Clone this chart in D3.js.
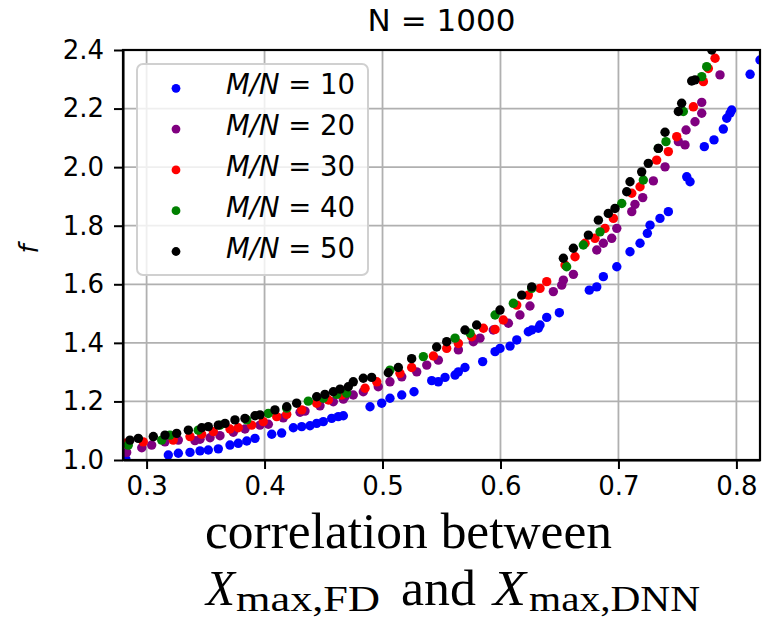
<!DOCTYPE html>
<html lang="en">
<head>
<meta charset="UTF-8">
<title>f vs correlation</title>
<script src="https://d3js.org/d3.v7.min.js"></script>
<style>
    body { margin: 0; background: #fff; }
    svg { display: block; }
    text { font-family: "DejaVu Sans", sans-serif; fill: #000; }
    .grid line { stroke: #b0b0b0; stroke-width: 1.8; }
    .axis path, .axis line { stroke: #000; stroke-width: 2; }
    .axis text { font-size: 26px; }
    .serif { font-family: "Liberation Serif", serif; }
</style>
</head>
<body>
<svg width="776" height="619"></svg>
<script>
    // tick values
    const xTicks = [0.3, 0.4, 0.5, 0.6, 0.7, 0.8];
    const yTicks = [1.0, 1.2, 1.4, 1.6, 1.8, 2.0, 2.2, 2.4];

    const seriesRatio = [10, 20, 30, 40, 50];
    const seriesColor = ["#0000ff", "#800080", "#ff0000", "#008000", "#000000"];

    // [correlation, f]
    const mn10 = [
        [0.2825, 1.002], [0.3184, 1.017], [0.3269, 1.023], [0.3368, 1.026], [0.3453, 1.031],
        [0.3523, 1.034], [0.3608, 1.038], [0.3707, 1.051], [0.3777, 1.057], [0.3849, 1.065],
        [0.3919, 1.074], [0.4061, 1.088], [0.4145, 1.092], [0.4244, 1.110], [0.4315, 1.114],
        [0.4385, 1.117], [0.4442, 1.125], [0.4498, 1.131], [0.4569, 1.142], [0.4625, 1.148],
        [0.4668, 1.151], [0.4894, 1.182], [0.4993, 1.194], [0.5063, 1.211], [0.5163, 1.222],
        [0.5267, 1.233], [0.5417, 1.271], [0.5473, 1.267], [0.5530, 1.282], [0.5615, 1.290],
        [0.5643, 1.301], [0.5699, 1.316], [0.5849, 1.336], [0.5954, 1.370], [0.5996, 1.381],
        [0.6081, 1.389], [0.6138, 1.410], [0.6236, 1.438], [0.6265, 1.444], [0.6321, 1.450],
        [0.6335, 1.461], [0.6392, 1.487], [0.6499, 1.503], [0.6753, 1.580], [0.6816, 1.591],
        [0.6872, 1.626], [0.6986, 1.660], [0.7098, 1.711], [0.7183, 1.740], [0.7245, 1.774],
        [0.7268, 1.802], [0.7352, 1.825], [0.7423, 1.848], [0.7579, 1.967], [0.7607, 1.950],
        [0.7728, 2.070], [0.7810, 2.093], [0.7889, 2.130], [0.7918, 2.167], [0.7946, 2.184],
        [0.7960, 2.195], [0.8116, 2.317], [0.8200, 2.366]
    ];
    const mn20 = [
        [0.2831, 1.026], [0.2959, 1.042], [0.3043, 1.051], [0.3156, 1.062], [0.3269, 1.068],
        [0.3410, 1.066], [0.3453, 1.071], [0.3538, 1.076], [0.3622, 1.083], [0.3735, 1.095],
        [0.3834, 1.106], [0.3961, 1.119], [0.4032, 1.122], [0.4159, 1.144], [0.4301, 1.163],
        [0.4343, 1.167], [0.4470, 1.185], [0.4583, 1.199], [0.4668, 1.208], [0.4682, 1.216],
        [0.4752, 1.222], [0.4837, 1.233], [0.4964, 1.250], [0.5063, 1.267], [0.5163, 1.284],
        [0.5290, 1.301], [0.5375, 1.324], [0.5473, 1.341], [0.5643, 1.376], [0.5770, 1.404],
        [0.5826, 1.416], [0.5939, 1.444], [0.6067, 1.467], [0.6165, 1.495], [0.6250, 1.526],
        [0.6448, 1.575], [0.6519, 1.597], [0.6533, 1.614], [0.6618, 1.634], [0.6816, 1.717],
        [0.6872, 1.740], [0.6943, 1.757], [0.6986, 1.791], [0.7113, 1.848], [0.7140, 1.873],
        [0.7206, 1.896], [0.7296, 1.953], [0.7395, 2.001], [0.7508, 2.087], [0.7564, 2.076],
        [0.7573, 2.127], [0.7649, 2.155], [0.7706, 2.184], [0.7706, 2.221], [0.7861, 2.315]
    ];
    const mn30 = [
        [0.2817, 1.057], [0.2972, 1.062], [0.3226, 1.068], [0.3368, 1.080], [0.3467, 1.088],
        [0.3566, 1.097], [0.3707, 1.106], [0.3777, 1.110], [0.3891, 1.119], [0.3989, 1.131],
        [0.4103, 1.148], [0.4188, 1.156], [0.4315, 1.171], [0.4442, 1.194], [0.4541, 1.205],
        [0.4654, 1.222], [0.4852, 1.245], [0.4951, 1.267], [0.5148, 1.296], [0.5247, 1.316],
        [0.5431, 1.355], [0.5544, 1.381], [0.5643, 1.398], [0.5756, 1.421], [0.5855, 1.450],
        [0.5954, 1.446], [0.6024, 1.478], [0.6138, 1.529], [0.6236, 1.563], [0.6335, 1.586],
        [0.6392, 1.609], [0.6547, 1.666], [0.6632, 1.694], [0.6717, 1.740], [0.6801, 1.757],
        [0.6886, 1.791], [0.6957, 1.825], [0.7113, 1.911], [0.7183, 1.933], [0.7324, 2.024],
        [0.7423, 2.053], [0.7494, 2.104], [0.7635, 2.206], [0.7720, 2.292], [0.7762, 2.337],
        [0.7819, 2.372]
    ];
    const mn40 = [
        [0.2845, 1.051], [0.3128, 1.068], [0.3198, 1.085], [0.3438, 1.102], [0.3622, 1.119],
        [0.3849, 1.137], [0.4032, 1.159], [0.4188, 1.177], [0.4371, 1.201], [0.4498, 1.211],
        [0.4612, 1.224], [0.4696, 1.228], [0.5063, 1.307], [0.5346, 1.353], [0.5615, 1.416],
        [0.5742, 1.433], [0.5954, 1.495], [0.6109, 1.535], [0.6265, 1.586], [0.6561, 1.660],
        [0.6702, 1.734], [0.6844, 1.779], [0.7028, 1.876], [0.7211, 1.956], [0.7338, 2.064],
        [0.7403, 2.087], [0.7550, 2.190], [0.7706, 2.309], [0.7748, 2.343]
    ];
    const mn50 = [
        [0.2859, 1.068], [0.2930, 1.074], [0.3057, 1.080], [0.3156, 1.085], [0.3255, 1.091],
        [0.3354, 1.102], [0.3467, 1.110], [0.3523, 1.114], [0.3608, 1.119], [0.3665, 1.125],
        [0.3749, 1.137], [0.3834, 1.142], [0.3919, 1.151], [0.3961, 1.154], [0.4088, 1.171],
        [0.4188, 1.182], [0.4272, 1.194], [0.4442, 1.216], [0.4512, 1.224], [0.4583, 1.233],
        [0.4640, 1.242], [0.4710, 1.250], [0.4752, 1.267], [0.4837, 1.279], [0.4908, 1.282],
        [0.5049, 1.298], [0.5134, 1.316], [0.5247, 1.346], [0.5459, 1.386], [0.5544, 1.404],
        [0.5699, 1.444], [0.5798, 1.461], [0.5996, 1.512], [0.6180, 1.563], [0.6265, 1.591],
        [0.6533, 1.689], [0.6618, 1.723], [0.6745, 1.768], [0.6830, 1.819], [0.6914, 1.842],
        [0.6971, 1.859], [0.7070, 1.916], [0.7098, 1.950], [0.7197, 1.984], [0.7253, 2.013],
        [0.7338, 2.064], [0.7395, 2.119], [0.7508, 2.190], [0.7536, 2.218], [0.7621, 2.294],
        [0.7649, 2.298], [0.7791, 2.400]
    ];
    const seriesData = [mn10, mn20, mn30, mn40, mn50];

    const plotL = 123, plotR = 760, plotT = 50, plotB = 460;

    const svg = d3.select("svg");

    const x = d3.scaleLinear().domain([0.28, 0.82]).range([plotL, plotR]);
    const y = d3.scaleLinear().domain([1.0, 2.4]).range([plotB, plotT]);

    svg.append("defs").append("clipPath").attr("id", "plotClip")
        .append("rect")
        .attr("x", plotL).attr("y", plotT)
        .attr("width", plotR - plotL).attr("height", plotB - plotT);

    // grid
    const grid = svg.append("g").attr("class", "grid");
    grid.selectAll("line.gx").data(xTicks).enter().append("line")
        .attr("class", "gx")
        .attr("x1", d => x(d)).attr("x2", d => x(d))
        .attr("y1", plotT).attr("y2", plotB);
    grid.selectAll("line.gy").data(yTicks).enter().append("line")
        .attr("class", "gy")
        .attr("x1", plotL).attr("x2", plotR)
        .attr("y1", d => y(d)).attr("y2", d => y(d));

    // points
    const pts = svg.append("g").attr("clip-path", "url(#plotClip)");
    seriesData.forEach((data, i) => {
        pts.append("g")
            .selectAll("circle")
            .data(data)
            .enter().append("circle")
            .attr("cx", d => x(d[0]))
            .attr("cy", d => y(d[1]))
            .attr("r", 4.7)
            .attr("fill", seriesColor[i]);
    });

    // axes
    svg.append("g")
        .attr("class", "axis")
        .attr("transform", `translate(0,${plotB})`)
        .call(d3.axisBottom(x).tickValues(xTicks).tickFormat(d3.format(".1f")).tickSize(9).tickPadding(8).tickSizeOuter(0));
    svg.append("g")
        .attr("class", "axis")
        .attr("transform", `translate(${plotL},0)`)
        .call(d3.axisLeft(y).tickValues(yTicks).tickFormat(d3.format(".1f")).tickSize(9).tickPadding(10).tickSizeOuter(0));

    // frame
    svg.append("rect")
        .attr("x", plotL).attr("y", plotT)
        .attr("width", plotR - plotL).attr("height", plotB - plotT)
        .attr("fill", "none").attr("stroke", "#000").attr("stroke-width", 2.2);

    // title
    svg.append("text")
        .attr("x", (plotL + plotR) / 2).attr("y", 31)
        .attr("text-anchor", "middle")
        .style("font-size", "31px")
        .text("N = 1000");

    // y label
    svg.append("text")
        .attr("transform", "translate(38,249) rotate(-90)")
        .attr("text-anchor", "middle")
        .style("font-size", "26px")
        .style("font-style", "italic")
        .text("f");

    // x label
    svg.append("text")
        .attr("class", "serif")
        .attr("x", 205).attr("y", 548)
        .style("font-size", "51px")
        .attr("textLength", 407).attr("lengthAdjust", "spacingAndGlyphs")
        .text("correlation between");

    const line2 = [
        { t: "X", x: 206, w: 29, size: 51, italic: true, sub: false },
        { t: "max,FD", x: 236, w: 144, size: 35, italic: false, sub: true },
        { t: "and", x: 401, w: 75, size: 51, italic: false, sub: false },
        { t: "X", x: 493, w: 33, size: 51, italic: true, sub: false },
        { t: "max,DNN", x: 529, w: 171, size: 35, italic: false, sub: true }
    ];
    svg.selectAll("text.xl2").data(line2).enter().append("text")
        .attr("class", "serif xl2")
        .attr("x", d => d.x)
        .attr("y", d => d.sub ? 611 : 605)
        .attr("textLength", d => d.w).attr("lengthAdjust", "spacingAndGlyphs")
        .style("font-size", d => d.size + "px")
        .style("font-style", d => d.italic ? "italic" : "normal")
        .text(d => d.t);

    // legend
    const lg = svg.append("g");
    lg.append("rect")
        .attr("x", 137).attr("y", 64)
        .attr("width", 231).attr("height", 211)
        .attr("rx", 6)
        .attr("fill", "#fff").attr("fill-opacity", 0.8)
        .attr("stroke", "#d0d0d0").attr("stroke-width", 2);
    seriesRatio.forEach((r, i) => {
        const cy = 88.3 + i * 40.8;
        lg.append("circle").attr("cx", 176).attr("cy", cy).attr("r", 4.4).attr("fill", seriesColor[i]);
        const t = lg.append("text").attr("x", 226).attr("y", cy + 6).style("font-size", "27.5px");
        t.append("tspan").style("font-style", "italic").text("M/N");
        t.append("tspan").text(" = " + r);
    });
</script>
</body>
</html>
